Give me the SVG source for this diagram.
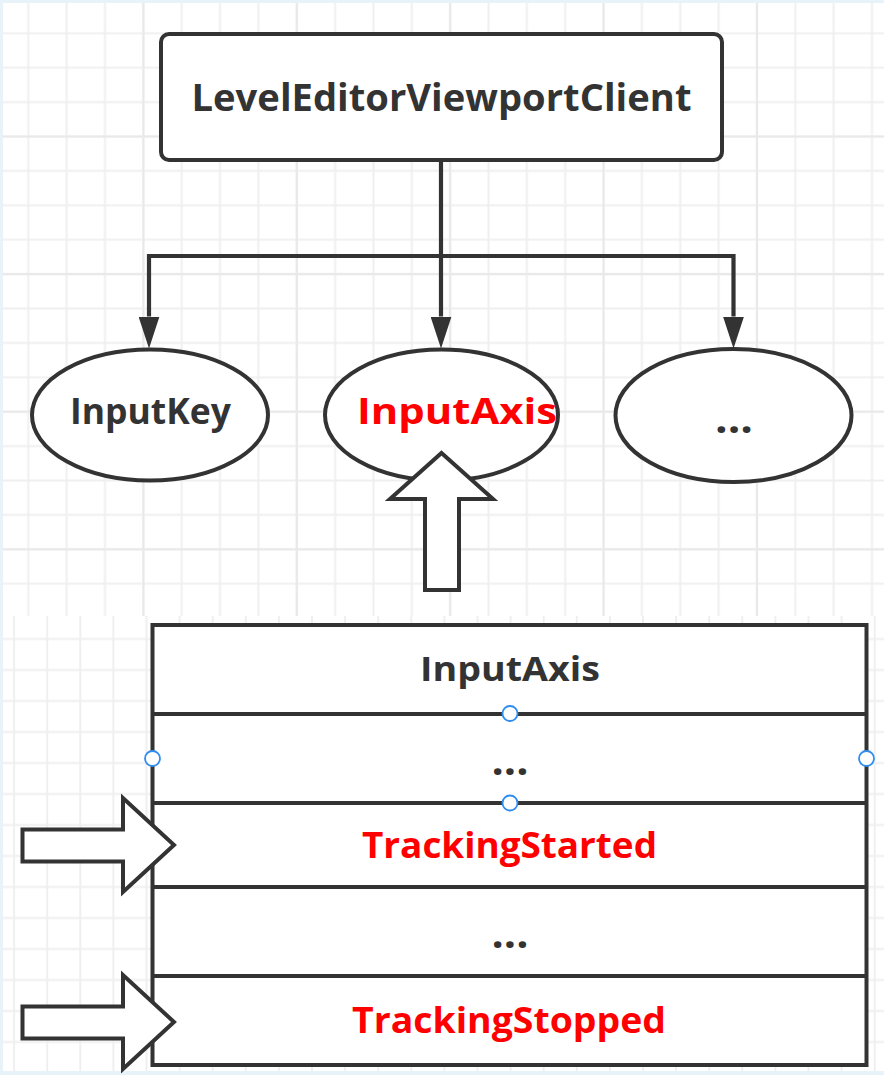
<svg xmlns="http://www.w3.org/2000/svg" width="884" height="1075" viewBox="0 0 884 1075">
<style>
.shape{fill:#fff;stroke:#333;stroke-width:4;stroke-linejoin:miter}
.conn{fill:none;stroke:#333;stroke-width:4.2;stroke-linejoin:miter}
.lbl{font-family:"Open Sans","Noto Sans","Liberation Sans",sans-serif;font-weight:bold;text-anchor:middle}
.dark{fill:#333}
.red{fill:#ff0000}
.dots{font-size:42px}
.handle{fill:#fff;stroke:#2f8cf0;stroke-width:1.8}
</style>
<defs>
<pattern id="gTop" patternUnits="userSpaceOnUse" x="9.125" y="16.1" width="38.35" height="34.4">
<path d="M19.175 0V34.4M0 17.2H38.35" stroke="#efefef" stroke-width="2" fill="none"/>
</pattern>
<pattern id="gTopMajor" patternUnits="userSpaceOnUse" x="66.7" y="67.7" width="153.4" height="137.6">
<path d="M76.7 0V137.6M0 68.8H153.4" stroke="#e9e9e9" stroke-width="2" fill="none"/>
</pattern>
<pattern id="gBot" patternUnits="userSpaceOnUse" x="-2.45" y="623.5" width="33.1" height="31">
<path d="M16.55 0V31M0 15.5H33.1" stroke="#efefef" stroke-width="2" fill="none"/>
</pattern>
<marker id="ah" viewBox="0 0 32 21" refX="0" refY="10.5" markerWidth="32" markerHeight="21" markerUnits="userSpaceOnUse" orient="auto">
<path d="M0 0L32 10.5L0 21Z" fill="#333"/>
</marker>
</defs>

<g id="background">
<rect x="0" y="0" width="884" height="1075" fill="#fff"/>
<rect x="0" y="0" width="884" height="616" fill="url(#gTop)"/>
<rect x="0" y="0" width="884" height="616" fill="url(#gTopMajor)"/>
<rect x="0" y="616" width="884" height="459" fill="url(#gBot)"/>
<rect x="0" y="0" width="884" height="3" fill="#e8f2f9"/>
<rect x="0" y="0" width="3" height="1075" fill="#e8f2f9"/>
<rect x="0" y="1071" width="884" height="4" fill="#e8f2f9"/>
</g>

<g id="connectors">
<path class="conn" d="M441 160V316.5" marker-end="url(#ah)"/>
<path class="conn" d="M441 256H149V316.5" marker-end="url(#ah)"/>
<path class="conn" d="M441 256H733.5V316.5" marker-end="url(#ah)"/>
</g>

<g id="node-client">
<rect class="shape" x="161" y="34" width="561" height="126" rx="8"/>
<text class="lbl dark" x="441.5" y="110.5" font-size="37" textLength="500" lengthAdjust="spacingAndGlyphs">LevelEditorViewportClient</text>
</g>

<g id="node-inputkey">
<ellipse class="shape" cx="150" cy="415" rx="118" ry="65.5"/>
<text class="lbl dark" x="150.5" y="424" font-size="35" textLength="161" lengthAdjust="spacingAndGlyphs">InputKey</text>
</g>

<g id="node-inputaxis">
<ellipse class="shape" cx="441.5" cy="415" rx="116.5" ry="65.5"/>
<text class="lbl red" x="457" y="424" font-size="35" textLength="200" lengthAdjust="spacingAndGlyphs">InputAxis</text>
</g>

<g id="node-more">
<ellipse class="shape" cx="733.5" cy="415.5" rx="118" ry="66.5"/>
<text class="lbl dark dots" x="734" y="433" textLength="38" lengthAdjust="spacingAndGlyphs">...</text>
</g>

<g id="up-arrow">
<polygon class="shape" points="441.5,453 493,499 459,499 459,590 425,590 425,499 390,499"/>
</g>

<g id="node-table">
<rect class="shape" x="152.5" y="625" width="714" height="440"/>
<path class="conn" style="stroke-width:4" d="M152.5 714H866.5M152.5 803H866.5M152.5 887H866.5M152.5 976H866.5"/>
<text class="lbl dark" x="510" y="681" font-size="34" textLength="180" lengthAdjust="spacingAndGlyphs">InputAxis</text>
<text class="lbl dark dots" x="510" y="774.5" textLength="37" lengthAdjust="spacingAndGlyphs">...</text>
<text class="lbl red" x="509.5" y="858" font-size="36" textLength="295" lengthAdjust="spacingAndGlyphs">TrackingStarted</text>
<text class="lbl dark dots" x="510" y="947.5" textLength="37" lengthAdjust="spacingAndGlyphs">...</text>
<text class="lbl red" x="509" y="1033" font-size="36" textLength="314" lengthAdjust="spacingAndGlyphs">TrackingStopped</text>
</g>

<g id="handles">
<circle class="handle" cx="510" cy="713.5" r="7.5"/>
<circle class="handle" cx="510" cy="803" r="7.5"/>
<circle class="handle" cx="152.5" cy="758.5" r="7.5"/>
<circle class="handle" cx="866.5" cy="758.5" r="7.5"/>
</g>

<g id="arrow-started">
<polygon class="shape" points="22.5,829.5 123,829.5 123,798 174,845 123,892 123,861.5 22.5,861.5"/>
</g>

<g id="arrow-stopped">
<polygon class="shape" points="22.5,1006.5 123,1006.5 123,975 174,1022 123,1069 123,1038.5 22.5,1038.5"/>
</g>
</svg>
